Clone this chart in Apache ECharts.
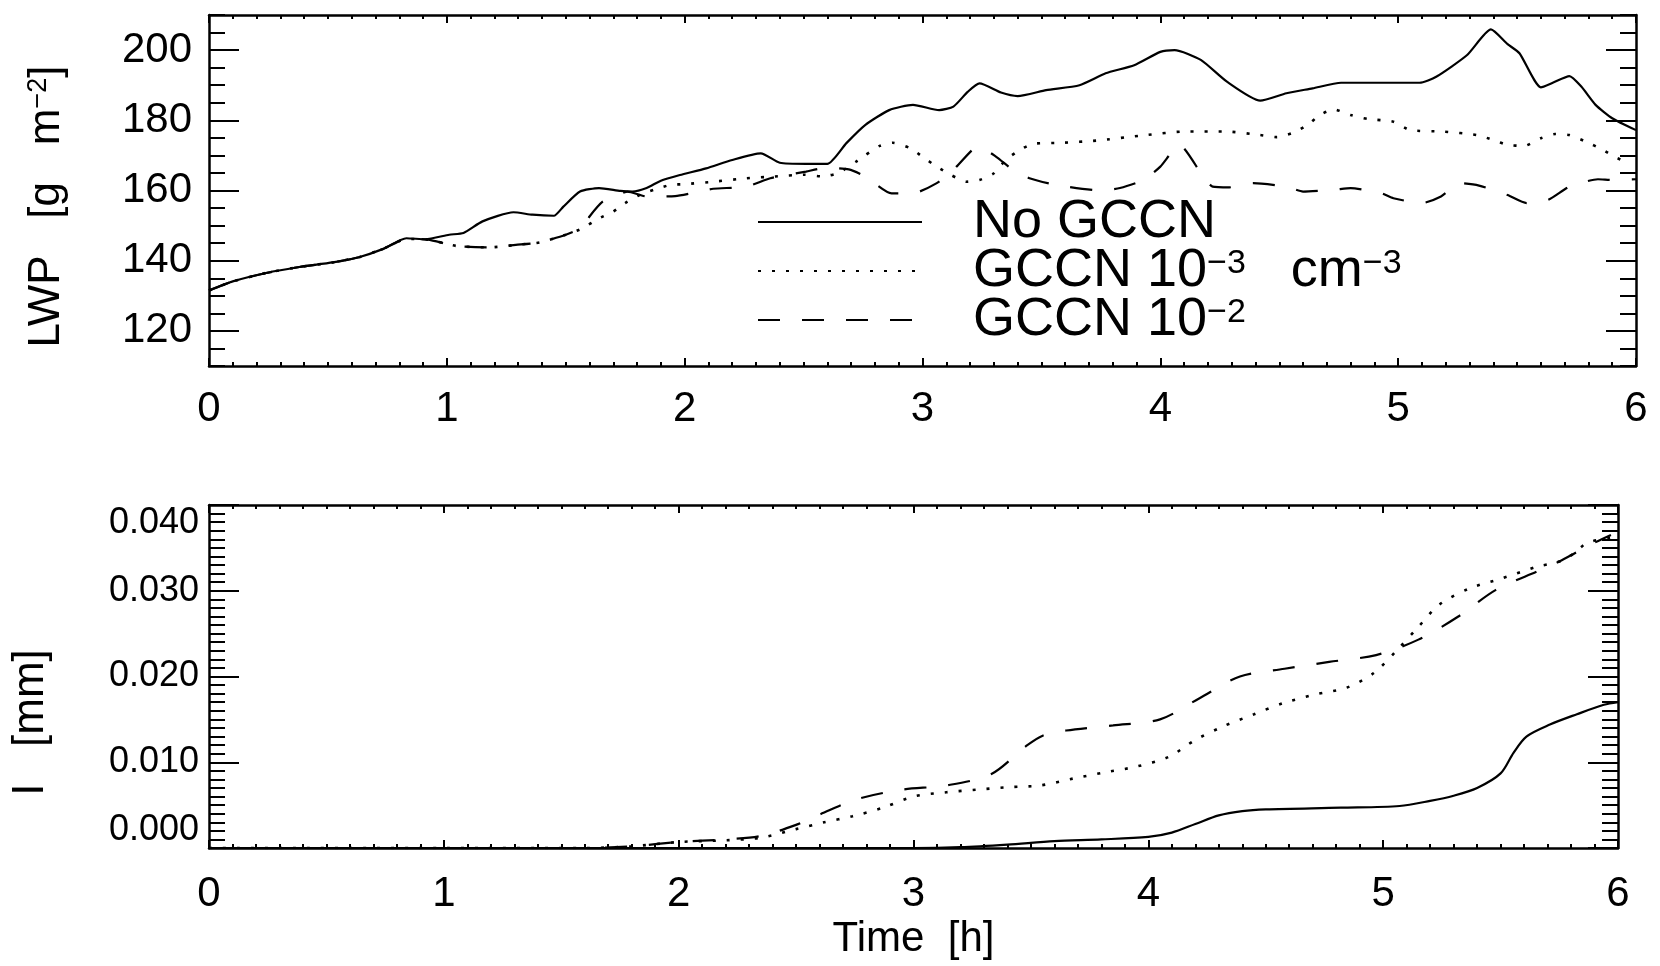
<!DOCTYPE html>
<html><head><meta charset="utf-8">
<script src="https://cdn.jsdelivr.net/npm/echarts@6/dist/echarts.min.js"></script>
<style>html,body{margin:0;padding:0;background:#fff}#c{width:1660px;height:966px}</style>
</head><body><div id="c"></div>
<script>
// ---- data (time in h) ----
const seriesNames = ['No GCCN', 'GCCN 10-3 cm-3', 'GCCN 10-2'];
const xTickValues = [0, 1, 2, 3, 4, 5, 6];
const lwpTickValues = [120, 140, 160, 180, 200];
const prTickValues = [0, 0.01, 0.02, 0.03, 0.04];

// LWP [g m-2]
const lwpNoT = [0,0.1,0.24,0.38,0.52,0.63,0.73,0.83,0.91,1.01,1.07,1.15,1.28,1.36,1.45,1.49,1.56,1.64,1.73,1.78,1.84,1.9,1.98,2.09,2.2,2.32,2.4,2.51,2.6,2.68,2.76,2.86,2.96,3.07,3.13,3.19,3.24,3.33,3.4,3.52,3.66,3.77,3.89,4.0,4.06,4.17,4.28,4.42,4.53,4.64,4.76,4.91,5.09,5.16,5.29,5.39,5.46,5.51,5.6,5.65,5.72,5.77,5.83,5.9,6.0];
const lwpNoV = [131.5,134.1,136.5,138.2,139.5,141,143.3,146.4,146.1,147.4,147.9,151.2,153.8,153.1,152.8,155.4,159.7,160.7,159.9,159.7,160.7,162.8,164.4,166.3,168.7,170.6,167.9,167.6,167.6,173.5,178.7,182.9,184.4,182.9,183.9,188.1,190.5,187.9,186.9,188.6,190,193.4,195.7,199.5,200,197.2,191,185.6,187.7,189.1,190.7,190.7,190.7,192.4,198.6,205.9,201.7,199.1,189.4,190.7,192.6,189.6,184.4,180.6,177.2];

const lwpG3T = [0,0.1,0.24,0.38,0.52,0.63,0.73,0.83,0.92,1.04,1.18,1.29,1.39,1.5,1.57,1.635,1.7,1.75,1.81,1.87,1.94,2.0,2.12,2.26,2.38,2.5,2.58,2.65,2.72,2.76,2.82,2.875,2.95,3.0,3.06,3.12,3.185,3.24,3.3,3.35,3.41,3.465,3.59,3.73,3.94,4.1,4.28,4.42,4.49,4.56,4.62,4.67,4.73,4.8,4.87,4.98,5.05,5.19,5.33,5.4,5.46,5.53,5.6,5.66,5.72,5.79,5.86,5.91,5.97];
const lwpG3V = [131.5,134.1,136.5,138.2,139.5,141,143.3,146.2,146,144.2,143.8,144.5,145.2,147.4,149.2,151.9,154,156.4,158.7,160.2,161.6,161.8,162.5,163.5,164,164.5,164,165.1,168.2,170.1,172.7,173.6,172,169.6,166.8,164.4,162.5,163,164.9,168.7,171.6,173.3,173.6,174.2,175.8,176.8,176.8,175.8,175.2,176.5,178.7,181.5,183.1,181.5,180.4,179.6,177.2,176.8,175.8,174.4,173,172.7,174.9,176.1,175.8,173.9,171.6,169.6,167.8];

const lwpG2T = [0,0.1,0.24,0.38,0.52,0.63,0.73,0.83,0.92,1.04,1.18,1.29,1.39,1.5,1.57,1.6,1.655,1.72,1.76,1.84,1.96,2.05,2.12,2.26,2.36,2.51,2.6,2.69,2.76,2.87,2.96,3.06,3.13,3.21,3.24,3.31,3.38,3.45,3.56,3.75,3.83,3.93,4.0,4.08,4.18,4.22,4.29,4.39,4.53,4.6,4.73,4.8,4.93,4.98,5.1,5.18,5.26,5.34,5.46,5.54,5.63,5.72,5.84,5.9,6.0];
const lwpG2V = [131.5,134.1,136.5,138.2,139.5,141,143.3,146.2,146,144.2,143.8,144.5,145.2,147.4,149.5,152.6,156.8,158.8,159.7,158.3,158.4,159.5,160.5,161.1,163.5,165.4,166.5,166,164,159.2,159.2,162.1,165.9,171.6,172.3,169.6,165.9,163.5,161.6,160,160.7,163,166.8,173,164,161.1,160.9,162.1,161.1,159.7,160.2,160.7,159.2,157.8,156.4,158.3,162.1,161.4,158.7,156.4,157.3,161.1,163.2,163,163.2];

// I [mm]
const prNoT = [0,1,2,3,3.2,3.4,3.6,3.8,4.0,4.1,4.2,4.3,4.4,4.5,4.82,5.07,5.2,5.3,5.4,5.5,5.555,5.61,5.71,5.825,5.94,6.0];
const prNoV = [0,0,0,0,0.0001,0.0004,0.0008,0.0010,0.0013,0.0018,0.0028,0.0038,0.0043,0.0045,0.0047,0.0049,0.0055,0.0061,0.0070,0.0087,0.0111,0.0130,0.0144,0.0156,0.0167,0.0170];

const prG3T = [0,1,1.6,1.8,2.0,2.2,2.35,2.5,2.62,2.74,2.87,3.0,3.14,3.27,3.41,3.54,3.68,3.81,3.95,4.085,4.2,4.32,4.45,4.575,4.71,4.845,4.96,5.06,5.15,5.24,5.37,5.5,5.655,5.75,5.81,5.87,5.97];
const prG3V = [0,0,0,0.0002,0.0007,0.0009,0.0012,0.0022,0.0030,0.0037,0.0047,0.0060,0.0065,0.0068,0.0071,0.0073,0.0081,0.0088,0.0095,0.0106,0.0126,0.0142,0.0156,0.0169,0.0179,0.0187,0.0204,0.0231,0.0258,0.0284,0.0303,0.0314,0.0328,0.0334,0.0343,0.0356,0.0362];

const prG2T = [0,1,1.6,1.8,2.0,2.2,2.35,2.5,2.6,2.76,2.95,3.14,3.33,3.48,3.55,3.65,3.85,4.05,4.22,4.39,4.58,4.77,4.97,5.15,5.32,5.48,5.66,5.75,5.83,5.9,5.97];
const prG2V = [0,0,0,0.0002,0.0007,0.0010,0.0014,0.0027,0.0039,0.0057,0.0068,0.0073,0.0086,0.0119,0.0131,0.0137,0.0143,0.0150,0.0175,0.0200,0.0209,0.0217,0.0225,0.0243,0.0270,0.0301,0.0323,0.0334,0.0346,0.0356,0.0365];

// ---- build ----
const zip = (t, v) => t.map((x, i) => [x, v[i]]);
const FONT = 'Liberation Sans';
const BLACK = '#000';
const lineStyles = [
  { color: BLACK, width: 2.2, type: 'solid' },
  { color: BLACK, width: 2.6, type: [3, 11], cap: 'butt' },
  { color: BLACK, width: 2.2, type: [22, 22], cap: 'butt' }
];

const axisLineOn = { show: true, onZero: false, lineStyle: { color: BLACK, width: 2.5 } };
const axisLineOff = { show: false, onZero: false };
const labelStyle = { color: BLACK, fontFamily: FONT, fontSize: 42 };
const tickLine = { color: BLACK, width: 2 };

// ticks are pointed into the plot: right-side axes use inside ticks,
// the other sides use a reversed (negative) outside length.
function tickDef(pos, len, extra) {
  const t = pos === 'right'
    ? { show: true, inside: true, length: len, lineStyle: tickLine }
    : { show: true, inside: false, length: -len, lineStyle: tickLine };
  return Object.assign(t, extra || {});
}
function xAx(grid, pos, interval, tickLen, opts) {
  return Object.assign({
    type: 'value', gridIndex: grid, position: pos, min: 0, max: 6, interval: interval,
    axisLine: opts && opts.line ? axisLineOn : axisLineOff,
    axisTick: tickDef(pos, tickLen),
    splitLine: { show: false },
    axisLabel: { show: false }
  }, opts && opts.extra ? opts.extra : {});
}
function yAx(grid, pos, min, max, tickLen, tickOpts, opts) {
  return Object.assign({
    type: 'value', gridIndex: grid, position: pos, min: min, max: max,
    axisLine: opts && opts.line ? axisLineOn : axisLineOff,
    axisTick: tickDef(pos, tickLen, tickOpts.tick),
    splitLine: { show: false },
    axisLabel: { show: false }
  }, tickOpts.axis || {}, opts && opts.extra ? opts.extra : {});
}

const chart = echarts.init(document.getElementById('c'), null, { renderer: 'canvas' });
const option = {
  backgroundColor: '#fff',
  animation: false,
  grid: [
    { left: 209, top: 15, width: 1427, height: 351 },
    { left: 209, top: 505, width: 1409, height: 343 }
  ],
  xAxis: [
    // grid 0
    xAx(0, 'bottom', 1, 8, { line: true, extra: {
      axisLabel: Object.assign({ show: true, margin: 22, customValues: xTickValues, formatter: v => String(v) }, labelStyle) } }),
    xAx(0, 'bottom', 0.1, 4),
    xAx(0, 'top', 1, 8, { line: true }),
    xAx(0, 'top', 0.1, 4),
    // grid 1
    xAx(1, 'bottom', 1, 8, { line: true, extra: {
      axisLabel: Object.assign({ show: true, margin: 25, customValues: xTickValues, formatter: v => String(v) }, labelStyle),
      name: '{a|Time  [h]}', nameLocation: 'middle', nameGap: 70,
      nameTextStyle: { rich: { a: { fontFamily: FONT, fontSize: 42, color: BLACK } } } } }),
    xAx(1, 'bottom', 0.1, 4),
    xAx(1, 'top', 1, 8, { line: true }),
    xAx(1, 'top', 0.1, 4)
  ],
  yAxis: [
    // grid 0 (LWP)
    yAx(0, 'left', 110, 210, 30, { tick: { customValues: lwpTickValues } }, { line: true, extra: {
      axisLabel: Object.assign({ show: true, margin: 17, customValues: lwpTickValues }, labelStyle),
      name: '{a|LWP   [g   m}{s|−2}{a|]}', nameLocation: 'middle', nameRotate: 90, nameGap: 140,
      nameTextStyle: { padding: [0, 32, 0, 0], rich: {
        a: { fontFamily: FONT, fontSize: 44, color: BLACK, lineHeight: 44 },
        s: { fontFamily: FONT, fontSize: 27, color: BLACK, lineHeight: 14, verticalAlign: 'top' }
      } } } }),
    yAx(0, 'left', 110, 210, 16, { axis: { interval: 5 } }),
    yAx(0, 'right', 110, 210, 30, { tick: { customValues: lwpTickValues } }, { line: true }),
    yAx(0, 'right', 110, 210, 16, { axis: { interval: 5 } }),
    // grid 1 (I)
    yAx(1, 'left', 0, 0.04, 30, { axis: { interval: 0.01 } }, { line: true, extra: {
      axisLabel: Object.assign({ show: true, margin: 10, customValues: prTickValues, formatter: v => v.toFixed(3),
        verticalAlignMinLabel: 'bottom', verticalAlignMaxLabel: 'top' }, labelStyle, { fontSize: 36 }),
      name: '{a|I   [mm]}', nameLocation: 'middle', nameRotate: 90, nameGap: 156,
      nameTextStyle: { padding: [0, 92, 0, 0], rich: { a: { fontFamily: FONT, fontSize: 44, color: BLACK } } } } }),
    yAx(1, 'left', 0, 0.04, 16, { axis: { interval: 0.001 } }),
    yAx(1, 'right', 0, 0.04, 30, { axis: { interval: 0.01 } }, { line: true }),
    yAx(1, 'right', 0, 0.04, 16, { axis: { interval: 0.001 } })
  ],
  legend: {
    show: true, orient: 'vertical', left: 752, top: 190,
    itemWidth: 164, itemHeight: 20, itemGap: -5, selectedMode: false,
    itemStyle: { color: 'rgba(0,0,0,0)', borderColor: 'rgba(0,0,0,0)', borderWidth: 0 },
    data: seriesNames,
    formatter: function (name) {
      if (name === seriesNames[0]) return '{f|No GCCN}';
      if (name === seriesNames[1]) return '{f|GCCN 10}{s|−3}{n|   cm}{s|−3}';
      return '{f|GCCN 10}{s|−2}';
    },
    textStyle: { rich: {
      f: { fontFamily: FONT, fontSize: 54, color: BLACK, lineHeight: 49, padding: [0, 0, 0, 46] },
      n: { fontFamily: FONT, fontSize: 54, color: BLACK, lineHeight: 49 },
      s: { fontFamily: FONT, fontSize: 34, color: BLACK, lineHeight: 12, verticalAlign: 'top' }
    } }
  },
  series: [
    { name: seriesNames[0], type: 'line', xAxisIndex: 0, yAxisIndex: 0, data: zip(lwpNoT, lwpNoV), symbol: 'none', smooth: 0.2, lineStyle: lineStyles[0] },
    { name: seriesNames[1], type: 'line', xAxisIndex: 0, yAxisIndex: 0, data: zip(lwpG3T, lwpG3V), symbol: 'none', smooth: 0.2, lineStyle: lineStyles[1] },
    { name: seriesNames[2], type: 'line', xAxisIndex: 0, yAxisIndex: 0, data: zip(lwpG2T, lwpG2V), symbol: 'none', smooth: 0.2, lineStyle: lineStyles[2] },
    { name: seriesNames[0], type: 'line', xAxisIndex: 4, yAxisIndex: 4, data: zip(prNoT, prNoV), symbol: 'none', smooth: 0.3, lineStyle: lineStyles[0] },
    { name: seriesNames[1], type: 'line', xAxisIndex: 4, yAxisIndex: 4, data: zip(prG3T, prG3V), symbol: 'none', smooth: 0.3, lineStyle: lineStyles[1] },
    { name: seriesNames[2], type: 'line', xAxisIndex: 4, yAxisIndex: 4, data: zip(prG2T, prG2V), symbol: 'none', smooth: 0.3, lineStyle: lineStyles[2] }
  ]
};
chart.setOption(option);
</script>
</body></html>
